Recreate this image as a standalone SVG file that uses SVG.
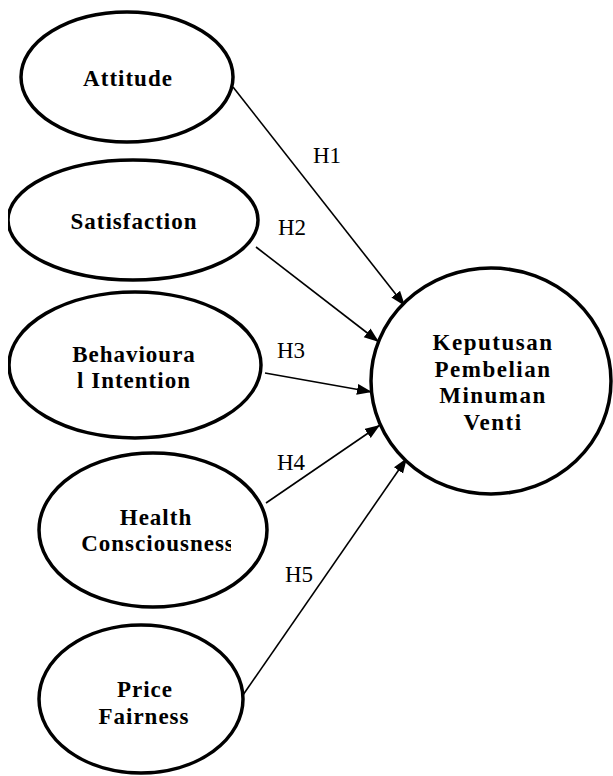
<svg xmlns="http://www.w3.org/2000/svg" width="613" height="776" viewBox="0 0 613 776">
<style>
.node ellipse{fill:#fff;stroke:#000;stroke-width:3.5}
.lbl{font-family:"Liberation Serif","Times New Roman",serif;font-weight:bold;font-size:23px;letter-spacing:1px;text-anchor:middle;fill:#000}
.h{font-family:"Liberation Serif","Times New Roman",serif;font-size:23px;fill:#000}
.conn line{stroke:#000;stroke-width:1.6}
</style>
<defs>
<marker id="arr" markerUnits="userSpaceOnUse" markerWidth="16" markerHeight="12" refX="15" refY="5.5" orient="auto">
<path d="M0,0 L15,5.5 L0,11 z" fill="#000"/>
</marker>
<clipPath id="leftclip"><rect x="8" y="0" width="605" height="776"/></clipPath>
<clipPath id="hcclip"><rect x="0" y="0" width="231" height="776"/></clipPath>
</defs>
<rect width="613" height="776" fill="#fff"/>
<g class="conn">
<line x1="233" y1="87" x2="405" y2="306" marker-end="url(#arr)"/>
<line x1="256" y1="247" x2="379" y2="342" marker-end="url(#arr)"/>
<line x1="265" y1="373" x2="372" y2="392" marker-end="url(#arr)"/>
<line x1="266" y1="503" x2="380" y2="425" marker-end="url(#arr)"/>
<line x1="243" y1="695" x2="407" y2="458" marker-end="url(#arr)"/>
<text class="h" x="313" y="163">H1</text>
<text class="h" x="278" y="235">H2</text>
<text class="h" x="277" y="358">H3</text>
<text class="h" x="277" y="470">H4</text>
<text class="h" x="285" y="582">H5</text>
</g>
<g id="attitude" class="node">
<ellipse cx="127" cy="77" rx="106" ry="65"/>
<text class="lbl" x="128" y="86">Attitude</text>
</g>
<g id="satisfaction" class="node">
<ellipse cx="133" cy="220" rx="125" ry="60" clip-path="url(#leftclip)"/>
<text class="lbl" x="134" y="229">Satisfaction</text>
</g>
<g id="behavioural" class="node">
<ellipse cx="135" cy="365" rx="126" ry="73" clip-path="url(#leftclip)"/>
<text class="lbl" x="134" y="362">Behavioura</text>
<text class="lbl" x="134" y="388">l Intention</text>
</g>
<g id="health" class="node">
<ellipse cx="153" cy="530" rx="114" ry="77"/>
<text class="lbl" x="156" y="525">Health</text>
<text class="lbl" x="158" y="551" clip-path="url(#hcclip)">Consciousness</text>
</g>
<g id="price" class="node">
<ellipse cx="141" cy="699" rx="102" ry="74"/>
<text class="lbl" x="145" y="697">Price</text>
<text class="lbl" x="144" y="724">Fairness</text>
</g>
<g id="keputusan" class="node">
<ellipse cx="491" cy="381" rx="120" ry="113"/>
<text class="lbl" x="493" y="350" style="letter-spacing:1.5px">Keputusan</text>
<text class="lbl" x="493" y="377" style="letter-spacing:1.5px">Pembelian</text>
<text class="lbl" x="493" y="403" style="letter-spacing:1.5px">Minuman</text>
<text class="lbl" x="493" y="430" style="letter-spacing:1.5px">Venti</text>
</g>
</svg>
